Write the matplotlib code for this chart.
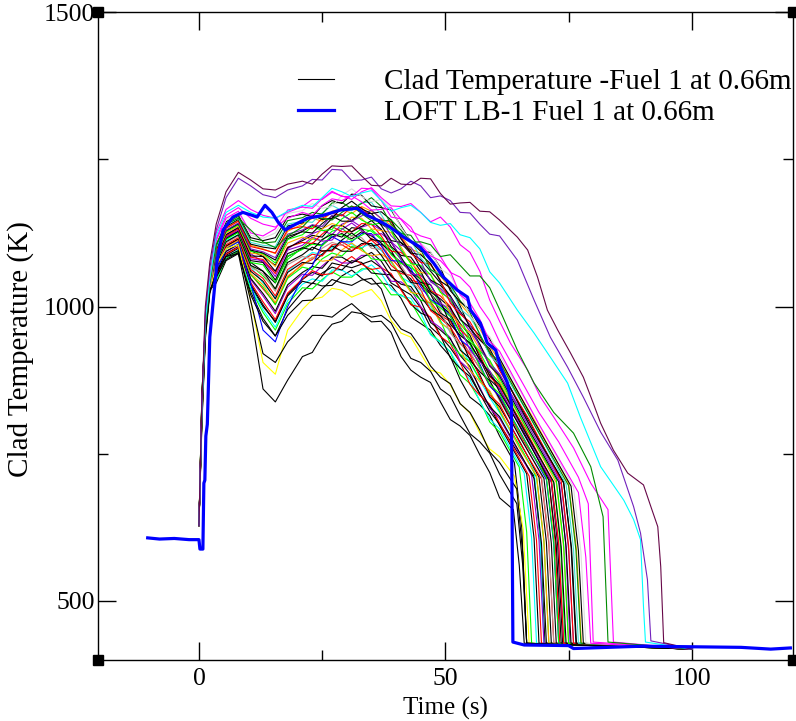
import matplotlib
matplotlib.use("Agg")
import matplotlib.pyplot as plt

plt.rcParams["font.family"] = ["Liberation Serif", "DejaVu Serif"]

# xmgrace palette
GRACE = {
    "black": "#000000", "red": "#ff0000", "green": "#00ff00", "blue": "#0000ff",
    "yellow": "#ffff00", "brown": "#bc8f8f", "grey": "#dcdcdc", "violet": "#9400d3",
    "cyan": "#00ffff", "magenta": "#ff00ff", "orange": "#ffa500", "indigo": "#7221bc",
    "maroon": "#670748", "turquoise": "#40e0d0", "green4": "#008b00",
}

# common time grid (s) for the first part of every code run
TIMES = [0, 0.6, 1.3, 2.2, 3.5, 5.5, 8, 10.5, 13, 15.5, 18, 21, 23, 25, 27, 29, 31, 33, 35, 37,
         39, 41, 43, 45, 47, 49, 51, 53, 55, 57, 59, 61]

# clad temperature (K) of each run on TIMES
RUN_TEMPS = [
    [628, 825, 960, 1031, 1052, 1090, 1102, 1035, 1000, 975, 1020, 1046, 1058, 1052, 1074, 1070, 1066, 1072, 1078, 1066, 1040, 1030, 1020, 998, 965, 950, 930, 906, 885, 852, 822, 800],
    [628, 830, 962, 1033, 1064, 1102, 1114, 1055, 1030, 1005, 1050, 1072, 1080, 1095, 1094, 1110, 1100, 1098, 1116, 1104, 1082, 1064, 1045, 1040, 1008, 985, 975, 946, 920, 895, 866, 846],
    [628, 840, 966, 1034, 1078, 1115, 1126, 1070, 1052, 1030, 1080, 1100, 1115, 1112, 1128, 1133, 1120, 1132, 1128, 1114, 1100, 1080, 1066, 1055, 1030, 1005, 992, 966, 940, 922, 890, 870],
    [628, 815, 955, 1030, 1090, 1128, 1140, 1095, 1085, 1070, 1115, 1128, 1138, 1132, 1150, 1156, 1146, 1160, 1152, 1140, 1130, 1108, 1090, 1080, 1060, 1040, 1018, 992, 968, 950, 920, 895],
    [628, 850, 970, 1036, 1075, 1112, 1122, 1068, 1040, 1015, 1060, 1080, 1092, 1088, 1100, 1112, 1105, 1100, 1108, 1095, 1075, 1050, 1040, 1022, 1000, 975, 958, 930, 905, 875, 845, 820],
    [628, 820, 958, 1030, 1085, 1122, 1135, 1090, 1075, 1060, 1098, 1115, 1124, 1130, 1122, 1140, 1146, 1135, 1140, 1130, 1110, 1095, 1076, 1068, 1045, 1028, 1010, 980, 958, 935, 905, 885],
    [628, 830, 962, 1032, 1082, 1118, 1128, 1075, 1060, 1040, 1085, 1098, 1108, 1104, 1118, 1124, 1115, 1127, 1120, 1108, 1090, 1075, 1060, 1046, 1022, 1002, 988, 955, 936, 910, 876, 860],
    [628, 845, 968, 1035, 1096, 1134, 1146, 1104, 1098, 1090, 1128, 1140, 1150, 1145, 1162, 1166, 1158, 1170, 1162, 1150, 1138, 1120, 1098, 1090, 1070, 1052, 1030, 1005, 985, 962, 932, 908],
    [628, 805, 950, 1028, 1040, 1078, 1090, 1025, 980, 950, 995, 1025, 1040, 1035, 1036, 1052, 1062, 1048, 1038, 1040, 1036, 1014, 982, 971, 960, 934, 915, 876, 846, 833, 815, 780],
    [628, 840, 965, 1032, 1044, 1082, 1094, 1030, 990, 960, 1005, 1032, 1030, 1046, 1059, 1050, 1050, 1064, 1064, 1043, 1020, 1020, 1008, 979, 954, 940, 923, 884, 869, 840, 804, 787],
    [628, 815, 955, 1030, 1046, 1084, 1096, 1033, 995, 965, 1010, 1038, 1047, 1043, 1062, 1062, 1052, 1061, 1071, 1056, 1030, 1018, 1014, 989, 952, 939, 923, 895, 876, 839, 809, 792],
    [628, 830, 962, 1035, 1049, 1087, 1099, 1038, 1003, 973, 1018, 1043, 1039, 1057, 1067, 1062, 1078, 1075, 1057, 1055, 1054, 1030, 1004, 989, 982, 951, 913, 895, 881, 851, 831, 798],
    [628, 850, 970, 1036, 1051, 1089, 1101, 1041, 1008, 978, 1023, 1047, 1061, 1054, 1056, 1073, 1085, 1072, 1063, 1066, 1056, 1028, 1003, 999, 981, 949, 937, 905, 868, 849, 834, 802],
    [628, 820, 958, 1030, 1055, 1093, 1105, 1046, 1018, 988, 1033, 1055, 1053, 1069, 1083, 1074, 1074, 1087, 1087, 1067, 1043, 1042, 1029, 1000, 976, 964, 947, 907, 892, 863, 827, 810],
    [628, 835, 966, 1034, 1056, 1094, 1106, 1048, 1022, 992, 1037, 1058, 1068, 1065, 1084, 1084, 1074, 1083, 1092, 1077, 1051, 1038, 1034, 1010, 973, 960, 945, 917, 898, 860, 830, 813],
    [628, 810, 952, 1028, 1061, 1099, 1111, 1054, 1033, 1003, 1048, 1067, 1063, 1081, 1091, 1086, 1102, 1099, 1081, 1079, 1077, 1053, 1026, 1011, 1006, 976, 938, 919, 906, 876, 855, 822],
    [628, 845, 968, 1036, 1062, 1100, 1112, 1056, 1037, 1007, 1052, 1070, 1084, 1077, 1079, 1096, 1108, 1095, 1086, 1089, 1078, 1049, 1024, 1021, 1004, 972, 961, 929, 892, 872, 857, 825],
    [628, 825, 960, 1032, 1065, 1103, 1115, 1060, 1043, 1013, 1058, 1075, 1073, 1089, 1103, 1094, 1094, 1107, 1107, 1087, 1062, 1060, 1047, 1017, 995, 984, 966, 926, 912, 884, 847, 830],
    [628, 815, 955, 1030, 1067, 1105, 1117, 1063, 1048, 1018, 1063, 1079, 1089, 1086, 1105, 1105, 1095, 1104, 1113, 1098, 1070, 1056, 1053, 1029, 993, 980, 965, 938, 918, 880, 850, 834],
    [628, 840, 965, 1034, 1070, 1108, 1120, 1067, 1056, 1026, 1071, 1085, 1081, 1099, 1109, 1104, 1120, 1117, 1099, 1097, 1095, 1070, 1043, 1027, 1023, 994, 955, 936, 923, 894, 873, 840],
    [628, 820, 958, 1031, 1072, 1110, 1122, 1070, 1060, 1030, 1075, 1088, 1101, 1094, 1096, 1113, 1125, 1112, 1103, 1106, 1095, 1065, 1041, 1038, 1021, 989, 978, 947, 909, 889, 874, 843],
    [628, 830, 962, 1033, 1060, 1098, 1110, 1040, 960, 940, 1000, 1050, 1069, 1106, 1119, 1110, 1110, 1124, 1124, 1103, 1078, 1077, 1064, 1034, 1012, 1002, 984, 944, 930, 902, 865, 848],
    [628, 850, 970, 1036, 1076, 1114, 1126, 1075, 1071, 1041, 1086, 1097, 1106, 1103, 1122, 1122, 1112, 1121, 1131, 1116, 1088, 1073, 1070, 1046, 1010, 998, 983, 956, 936, 898, 868, 852],
    [628, 815, 955, 1029, 1078, 1116, 1128, 1078, 1075, 1045, 1090, 1100, 1096, 1114, 1123, 1118, 1134, 1132, 1114, 1111, 1109, 1084, 1057, 1041, 1037, 1009, 970, 951, 938, 909, 888, 855],
    [628, 835, 964, 1033, 1080, 1118, 1130, 1081, 1078, 1051, 1096, 1104, 1118, 1111, 1113, 1131, 1142, 1129, 1121, 1124, 1111, 1080, 1056, 1053, 1037, 1006, 995, 964, 926, 906, 891, 860],
    [628, 825, 960, 1031, 1082, 1120, 1132, 1084, 1080, 1056, 1101, 1109, 1107, 1123, 1136, 1127, 1127, 1141, 1140, 1120, 1094, 1092, 1078, 1049, 1027, 1018, 1000, 960, 946, 918, 881, 864],
    [628, 845, 968, 1035, 1084, 1122, 1134, 1086, 1085, 1060, 1100, 1112, 1121, 1118, 1137, 1138, 1127, 1136, 1146, 1131, 1102, 1087, 1084, 1060, 1025, 1013, 998, 971, 951, 913, 883, 867],
    [628, 810, 952, 1028, 1087, 1125, 1137, 1091, 1088, 1068, 1108, 1118, 1114, 1132, 1141, 1136, 1152, 1150, 1132, 1129, 1126, 1101, 1074, 1058, 1055, 1027, 988, 969, 956, 927, 906, 873],
    [628, 830, 962, 1032, 1089, 1127, 1139, 1094, 1090, 1074, 1114, 1122, 1136, 1129, 1131, 1149, 1160, 1147, 1139, 1142, 1129, 1097, 1073, 1070, 1054, 1024, 1013, 982, 944, 924, 909, 878],
    [628, 850, 970, 1036, 1091, 1129, 1141, 1096, 1091, 1079, 1119, 1127, 1125, 1141, 1154, 1145, 1145, 1159, 1158, 1138, 1112, 1109, 1096, 1066, 1045, 1036, 1018, 978, 964, 936, 899, 882],
    [628, 820, 958, 1030, 1092, 1130, 1142, 1098, 1093, 1083, 1123, 1130, 1139, 1136, 1155, 1156, 1145, 1154, 1164, 1149, 1120, 1104, 1101, 1077, 1042, 1031, 1016, 989, 969, 931, 901, 885],
    [628, 840, 966, 1034, 1095, 1133, 1145, 1102, 1097, 1091, 1131, 1136, 1132, 1150, 1159, 1154, 1170, 1168, 1150, 1147, 1144, 1118, 1091, 1075, 1072, 1045, 1006, 987, 974, 945, 924, 891],
    [628, 815, 955, 1029, 1098, 1136, 1148, 1106, 1101, 1098, 1137, 1142, 1155, 1148, 1150, 1168, 1179, 1166, 1158, 1161, 1147, 1115, 1091, 1088, 1073, 1043, 1032, 1001, 963, 943, 928, 897],
    [628, 835, 964, 1033, 1100, 1138, 1150, 1109, 1104, 1102, 1140, 1145, 1143, 1159, 1172, 1163, 1163, 1177, 1177, 1156, 1129, 1126, 1113, 1083, 1063, 1054, 1036, 996, 982, 954, 917, 900],
    [628, 825, 960, 1031, 1103, 1141, 1153, 1113, 1108, 1110, 1146, 1151, 1160, 1157, 1176, 1177, 1166, 1175, 1185, 1170, 1140, 1124, 1121, 1097, 1063, 1052, 1037, 1010, 990, 952, 922, 906],
    [628, 845, 968, 1035, 1106, 1144, 1156, 1117, 1112, 1117, 1152, 1157, 1153, 1171, 1180, 1175, 1191, 1189, 1171, 1168, 1164, 1137, 1110, 1094, 1092, 1066, 1027, 1008, 995, 966, 945, 912],
    [628, 810, 952, 1028, 1109, 1147, 1159, 1121, 1116, 1125, 1158, 1163, 1175, 1167, 1170, 1189, 1200, 1187, 1178, 1182, 1167, 1135, 1110, 1108, 1093, 1064, 1053, 1022, 984, 964, 949, 918],
    [628, 830, 962, 1032, 1112, 1150, 1162, 1125, 1120, 1132, 1164, 1169, 1167, 1183, 1196, 1187, 1187, 1201, 1200, 1180, 1152, 1149, 1135, 1106, 1086, 1078, 1060, 1020, 1006, 978, 941, 924],
    [628, 810, 950, 1025, 1070, 1098, 1105, 1010, 905, 885, 960, 995, 1012, 1016, 1031, 1028, 1016, 1023, 1029, 1010, 976, 955, 948, 920, 892, 887, 867, 835, 819, 785, 758, 745],
    [628, 800, 945, 1022, 1060, 1085, 1090, 990, 860, 838, 875, 915, 922, 950, 970, 975, 991, 988, 974, 975, 956, 915, 892, 880, 871, 838, 808, 797, 781, 748, 718, 675],
    [628, 815, 952, 1026, 1055, 1085, 1095, 1010, 920, 905, 940, 965, 985, 985, 982, 995, 1005, 990, 982, 985, 972, 940, 912, 905, 890, 860, 848, 815, 784, 770, 751, 715],
    [628, 820, 955, 1028, 1050, 1080, 1092, 1020, 975, 950, 985, 1010, 1011, 1030, 1046, 1040, 1036, 1045, 1048, 1030, 984, 962, 954, 930, 899, 880, 869, 835, 820, 790, 753, 735],
    [628, 835, 985, 1050, 1125, 1165, 1180, 1165, 1155, 1150, 1160, 1170, 1182, 1182, 1194, 1188, 1182, 1195, 1202, 1185, 1171, 1170, 1175, 1160, 1144, 1152, 1135, 1105, 1092, 1060, 1011, 975],
    [628, 820, 970, 1042, 1115, 1155, 1168, 1150, 1140, 1135, 1150, 1160, 1155, 1172, 1183, 1180, 1188, 1178, 1164, 1165, 1168, 1148, 1128, 1120, 1115, 1085, 1058, 1050, 1033, 1000, 976, 940],
    [628, 815, 965, 1038, 1105, 1140, 1150, 1130, 1110, 1100, 1120, 1135, 1153, 1150, 1147, 1160, 1171, 1158, 1146, 1145, 1147, 1130, 1109, 1110, 1105, 1085, 1088, 1070, 1052, 1052, 1032, 995],
    [628, 825, 975, 1045, 1120, 1160, 1172, 1160, 1152, 1150, 1162, 1172, 1170, 1185, 1201, 1195, 1187, 1193, 1197, 1180, 1162, 1168, 1172, 1160, 1143, 1138, 1141, 1122, 1117, 1098, 1059, 1040],
    [628, 830, 990, 1065, 1130, 1185, 1218, 1205, 1190, 1185, 1198, 1205, 1216, 1215, 1233, 1232, 1214, 1215, 1220, 1200, 1193, 1200, 1213, 1205, 1185, 1188, 1180, 1160, 1159, 1140, 1123, 1120],
    [628, 840, 1000, 1075, 1140, 1195, 1228, 1215, 1200, 1198, 1208, 1213, 1208, 1225, 1239, 1238, 1239, 1222, 1206, 1205, 1218, 1208, 1207, 1218, 1217, 1192, 1174, 1176, 1177, 1162, 1161, 1147],
]

# (time, temperature) after 61 s: end of the decline and the quench
RUN_TAILS = [
    [(65, 748), (68, 712), (69.3, 600), (70.2, 428)],
    [(66, 770), (71, 705), (72.3, 598), (73.2, 428)],
    [(66, 792), (72, 700), (73.4, 590), (74.3, 428)],
    [(67, 805), (74, 700), (75.6, 590), (76.6, 428)],
    [(65, 762), (68, 722), (69.2, 610), (70, 428)],
    [(67, 800), (73, 710), (74.4, 598), (75.3, 428)],
    [(66, 782), (71.5, 702), (72.8, 594), (73.8, 428)],
    [(68, 808), (75, 700), (76.6, 588), (77.6, 428)],
    [(64, 735), (65.5, 625), (66.5, 428)],
    [(65, 727), (66.5, 617), (67.5, 428)],
    [(66, 717), (67.5, 607), (68.5, 428)],
    [(66.5, 716), (68, 606), (69, 428)],
    [(67, 712), (68.5, 602), (69.5, 428)],
    [(67.5, 713), (69, 603), (70, 428)],
    [(68, 708), (69.5, 598), (70.5, 428)],
    [(65, 765), (68.5, 710), (70, 600), (71, 428)],
    [(65, 760), (68.5, 713), (70, 603), (71, 428)],
    [(65, 772), (69, 710), (70.5, 600), (71.5, 428)],
    [(65, 770), (69.5, 707), (71, 597), (72, 428)],
    [(65, 782), (69.5, 713), (71, 603), (72, 428)],
    [(65, 780), (70, 708), (71.5, 598), (72.5, 428)],
    [(65, 790), (70.5, 706), (72, 596), (73, 428)],
    [(65, 788), (70.5, 710), (72, 600), (73, 428)],
    [(66, 785), (71, 705), (72.5, 595), (73.5, 428)],
    [(66, 788), (71.5, 703), (73, 593), (74, 428)],
    [(66, 795), (71.5, 707), (73, 597), (74, 428)],
    [(66, 790), (72, 702), (73.5, 592), (74.5, 428)],
    [(66, 800), (72.5, 701), (74, 591), (75, 428)],
    [(66, 800), (72.5, 706), (74, 596), (75, 428)],
    [(67, 790), (73, 702), (74.5, 592), (75.5, 428)],
    [(67, 795), (73.5, 698), (75, 588), (76, 428)],
    [(67, 808), (73.5, 704), (75, 594), (76, 428)],
    [(67, 800), (74, 702), (75.5, 592), (76.5, 428)],
    [(67, 815), (74.5, 698), (76, 588), (77, 428)],
    [(68, 800), (75, 696), (76.5, 586), (77.5, 428)],
    [(68, 805), (75.5, 695), (77, 585), (78, 428)],
    [(68, 815), (76, 693), (77.5, 583), (78.5, 428)],
    [(69, 800), (77, 684), (78.5, 574), (79.5, 428)],
    [(64, 712), (65.8, 620), (67, 428)],
    [(63.8, 655), (65, 560), (66, 428)],
    [(64.5, 665), (65.7, 560), (66.5, 428)],
    [(64.5, 690), (65.7, 580), (66.5, 428)],
    [(63.2, 938), (66.7, 892), (69.3, 846), (72, 812), (76, 760), (79.5, 700), (83, 655), (84.1, 430)],
    [(65, 880), (69, 820), (73, 770), (77, 710), (79, 665), (80, 430)],
    [(64.6, 926), (68, 870), (72, 820), (76, 785), (79.5, 728), (82, 643), (83, 430)],
    [(64.6, 994), (68, 955), (71.3, 914), (74.8, 870), (77.4, 812), (81.5, 728), (86.2, 671),
     (88.2, 638), (89.6, 604), (90.2, 490), (90.6, 430)],
    [(64.6, 1079), (68, 1011), (71.3, 948), (74.8, 897), (78, 846), (81.5, 787), (85, 739),
     (88.2, 660), (89.6, 615), (91, 536), (91.7, 432)],
    [(64.6, 1118), (66.7, 1096), (68.7, 1050), (70.7, 994), (72.8, 960), (75.4, 921), (78, 880),
     (80, 836), (81.5, 802), (84.1, 756), (87, 717), (90.2, 697), (91.7, 660), (93.1, 626),
     (93.7, 558), (94.3, 429)],
]

RUN_COLORS = [
    "black", "red", "green", "black", "cyan", "violet", "black", "orange",
    "black", "green", "cyan", "black", "red", "violet", "black", "green", "orange", "black",
    "red", "brown", "black", "blue", "green", "black", "violet", "red", "black", "orange",
    "green", "black", "indigo", "red", "black", "turquoise", "green4", "black", "grey", "magenta",
    "yellow", "black", "black", "black", "magenta", "magenta", "green4", "cyan", "indigo", "maroon",
]

# all code runs settle here after the quench
END_TIME = 100
FLOOR_TEMP = 418

# LOFT LB-1 measurement
LOFT_TIME = [-10.4, -8, -5, -2, 0, 0.2, 0.8, 1.0, 1.2, 1.4, 1.7, 2.2, 3.7, 4.9, 6.9, 8.9, 10.8, 11.8,
             13.4, 14.8, 16.1, 17.5, 18.5, 22, 25.2, 28.7, 32.1, 34.1, 36.2, 38.8, 41.5, 44.9,
             47.6, 49.6, 52.4, 54.5, 55.1, 57.1, 58.5, 60.2, 61.2, 62.6, 63.4, 63.7, 66, 75, 76,
             90, 100, 110, 116, 120]
LOFT_TEMP = [607, 605, 606, 604, 604, 588, 588, 700, 705, 780, 800, 948, 1079, 1130, 1152, 1160, 1155,
             1152, 1172, 1160, 1143, 1130, 1135, 1150, 1155, 1164, 1167, 1155, 1147, 1135, 1118,
             1101, 1074, 1050, 1028, 1016, 994, 972, 938, 926, 897, 870, 836, 430, 425, 424, 419,
             423, 422, 421, 418, 420]

fig = plt.figure(figsize=(7.96, 7.21), dpi=100)
ax = fig.add_axes([0.123, 0.085, 0.873, 0.898])

for temps, tail, cname in zip(RUN_TEMPS, RUN_TAILS, RUN_COLORS):
    t = TIMES + [p[0] for p in tail] + [END_TIME]
    y = temps + [p[1] for p in tail] + [FLOOR_TEMP]
    ax.plot(t, y, color=GRACE[cname], lw=0.8)

clad_handle, = ax.plot([], [], color="black", lw=0.8)
loft_handle, = ax.plot(LOFT_TIME, LOFT_TEMP, color=GRACE["blue"], lw=2.3)

ax.legend([clad_handle, loft_handle],
          ["Clad Temperature -Fuel 1 at 0.66m", "LOFT LB-1 Fuel 1 at 0.66m"],
          loc="upper left", bbox_to_anchor=(0.288, 0.913), frameon=False,
          fontsize=21, handlelength=1.25, handletextpad=1.7, borderpad=0,
          borderaxespad=0, labelspacing=0.15)

ax.set_xlim(-20.5, 120.5)
ax.set_ylim(400, 1500)
ax.set_xticks([0, 50, 100])
ax.set_xticks([25, 75], minor=True)
ax.set_yticks([500, 1000, 1500])
ax.set_yticks([750, 1250], minor=True)
ax.tick_params(which="both", direction="in", top=True, right=True, width=1.0,
               labelsize=18.5, color="black")
ax.tick_params(which="major", length=13)
ax.tick_params(which="minor", length=7)
ax.tick_params(axis="x", pad=6)
ax.tick_params(axis="y", pad=2)
for s in ax.spines.values():
    s.set_linewidth(1.0)

ax.set_xlabel("Time (s)", fontsize=18, labelpad=5)
ax.set_ylabel("Clad Temperature (K)", fontsize=21)
ax.yaxis.set_label_coords(-0.092, 0.48)

# grace focus markers at the graph corners
ax.plot([0, 1, 0, 1], [0, 0, 1, 1], "s", color="black", ms=7,
        transform=ax.transAxes, clip_on=False)

fig.savefig("out.png", dpi=100)
